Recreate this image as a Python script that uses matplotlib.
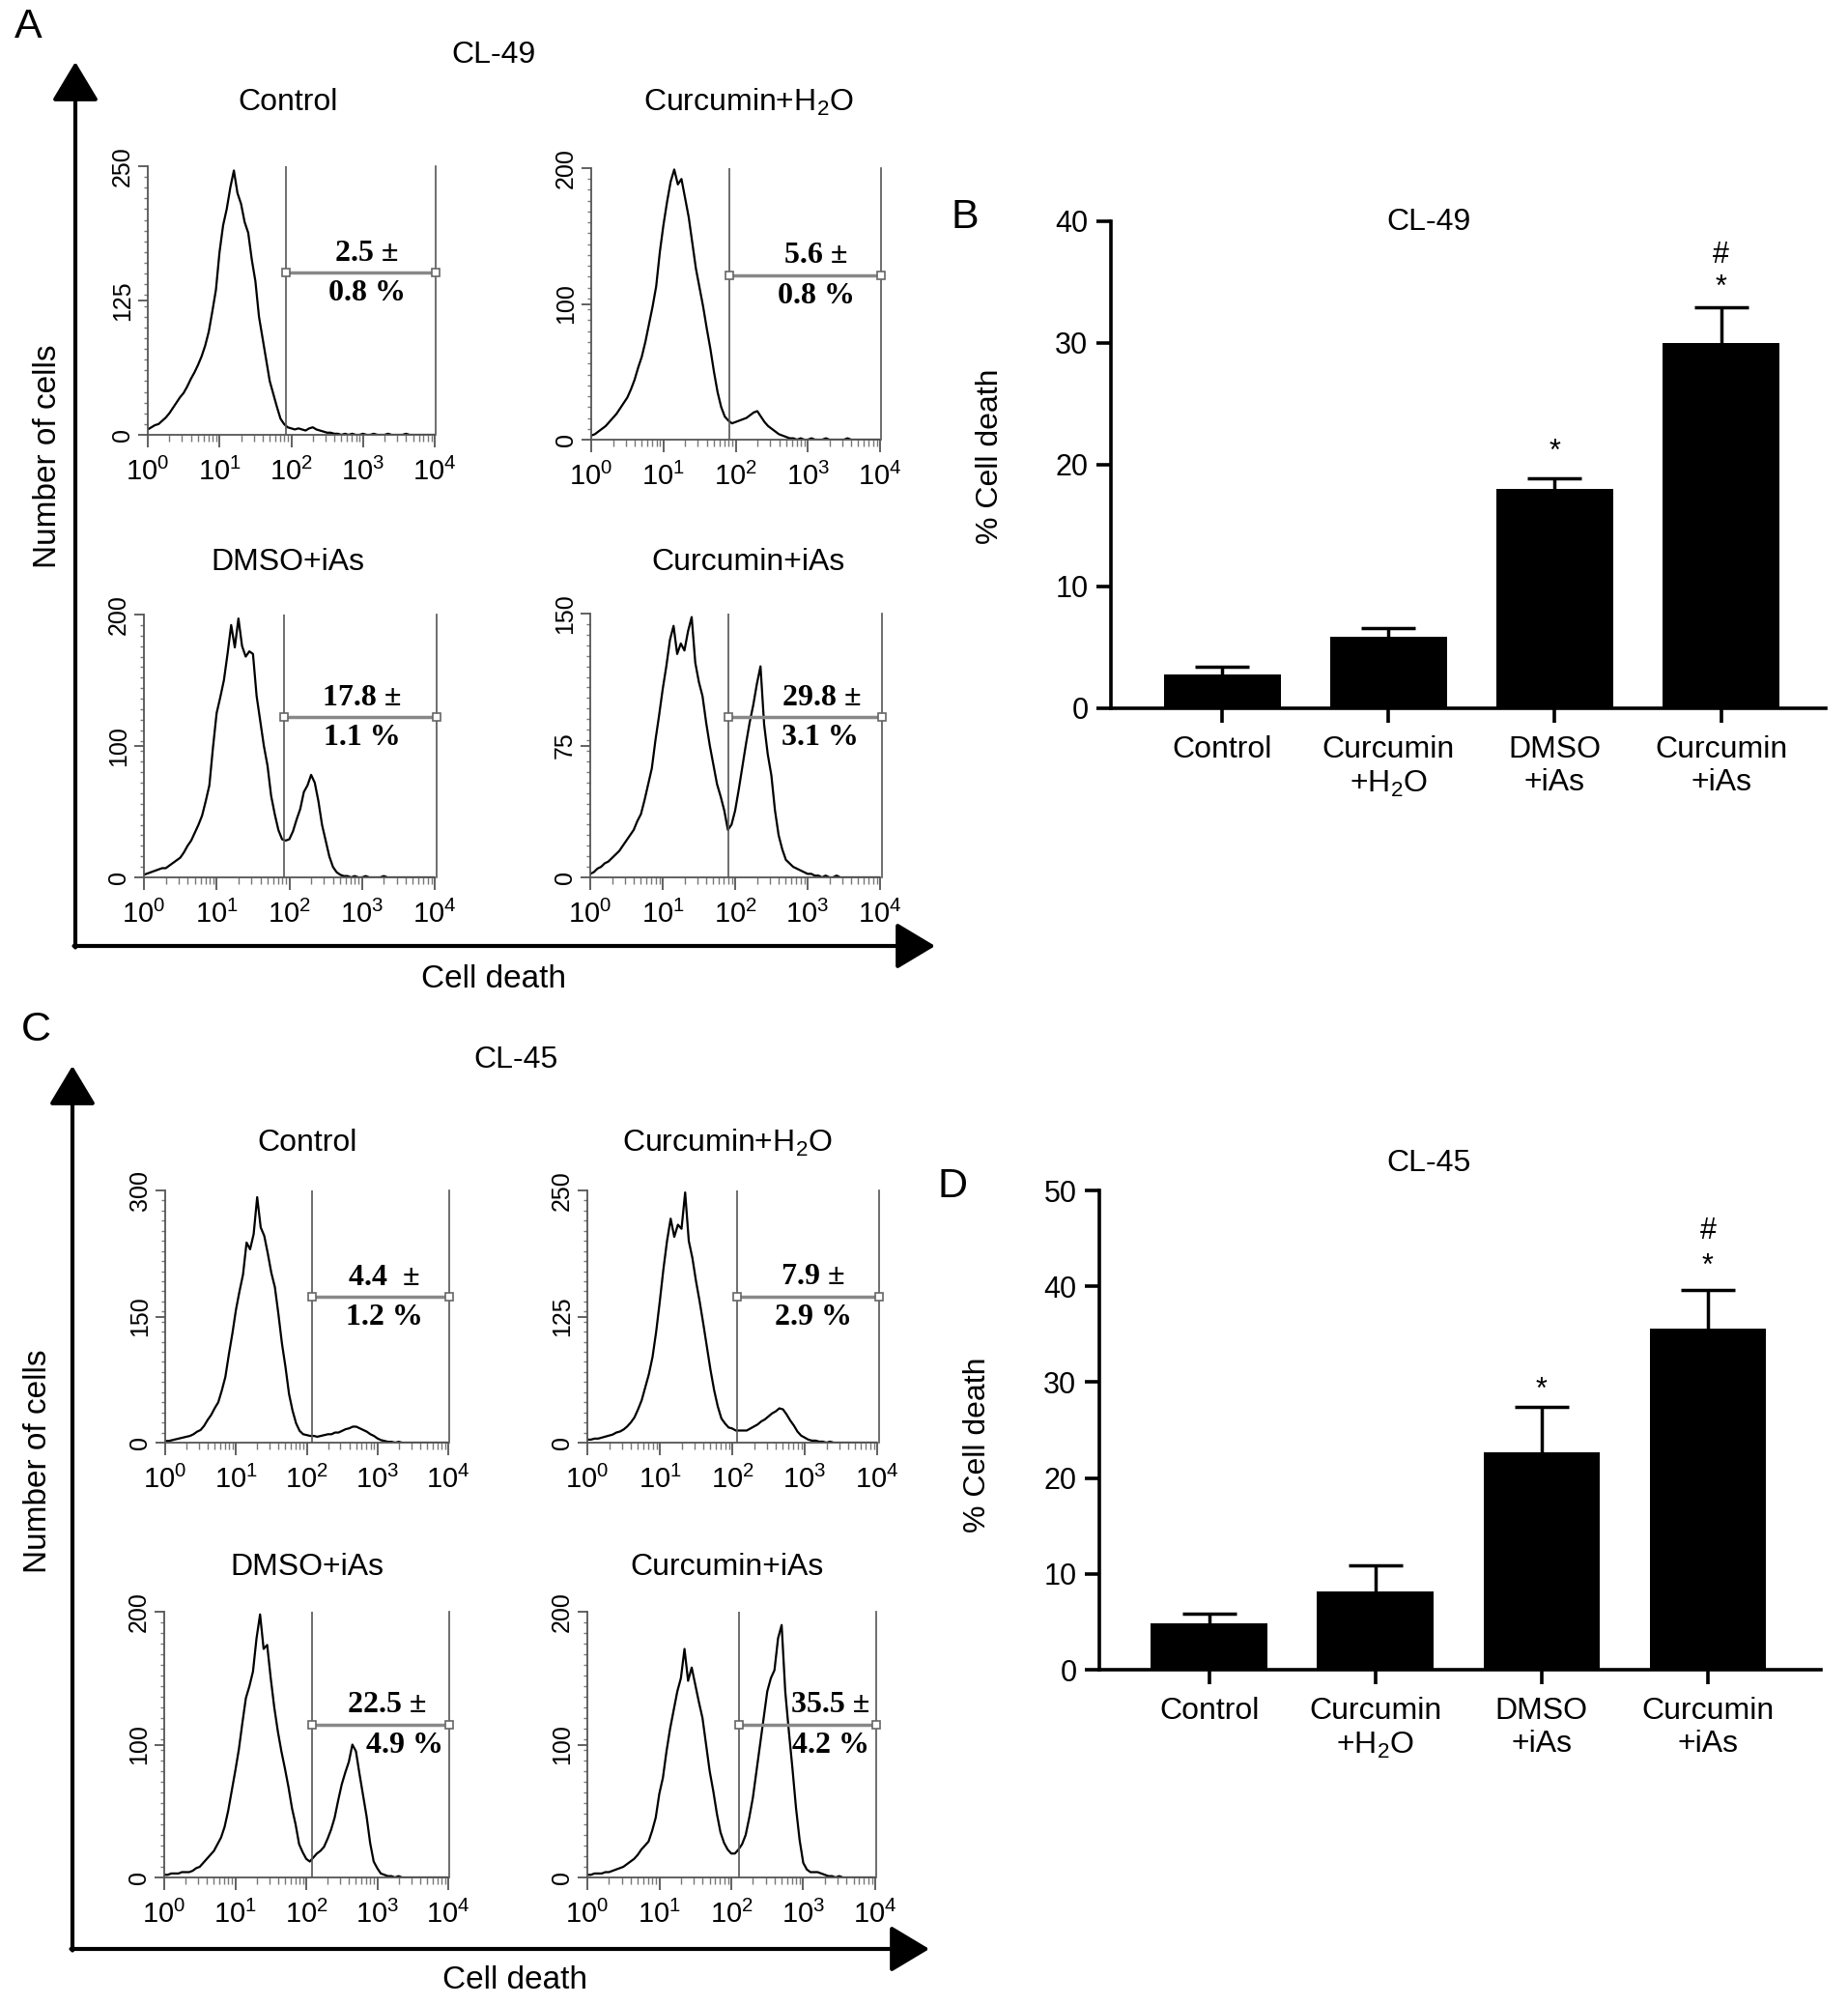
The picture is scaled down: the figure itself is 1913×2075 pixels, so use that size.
import numpy as np
import matplotlib
matplotlib.use('Agg')
import matplotlib.pyplot as plt
from matplotlib.ticker import MultipleLocator, LogLocator

plt.rcParams['font.family'] = ['Liberation Sans', 'DejaVu Sans']
plt.rcParams['mathtext.fontset'] = 'custom'
plt.rcParams['mathtext.rm'] = 'Liberation Sans'
plt.rcParams['mathtext.it'] = 'Liberation Sans:italic'
plt.rcParams['mathtext.bf'] = 'Liberation Sans:bold'

W, H = 1913, 2075

# ---- flow cytometry histograms (counts per channel, channels 0.05 decade apart, 10^0..10^4)
log_channel = np.linspace(0, 4, 81)

cl49_control = [5, 7, 9, 10, 13, 16, 20, 25, 30, 35, 39, 45, 52, 58, 65, 73, 83, 96, 115, 135,
                170, 195, 210, 230, 246, 225, 215, 198, 188, 163, 143, 110, 90, 70, 50, 38, 26, 15, 10, 7,
                6, 5, 6, 5, 4, 6, 7, 5, 4, 3, 2, 2, 1, 1, 0, 1, 0, 1, 0, 0,
                1, 0, 0, 1, 0, 0, 0, 1, 0, 0, 0, 0, 1, 0, 0, 0, 0, 0, 0, 0, 0]
cl49_cur_h2o = [3, 4, 6, 8, 10, 13, 16, 19, 23, 27, 31, 37, 44, 53, 61, 72, 85, 98, 113, 138,
                158, 175, 190, 199, 188, 192, 178, 164, 145, 126, 112, 98, 82, 67, 50, 35, 24, 17, 14, 12,
                13, 14, 15, 16, 18, 20, 21, 17, 13, 10, 8, 6, 4, 3, 2, 1, 1, 0, 1, 0,
                0, 1, 0, 0, 0, 1, 0, 0, 0, 0, 0, 1, 0, 0, 0, 0, 0, 0, 0, 0, 0]
cl49_dmso_ias = [2, 3, 4, 5, 6, 7, 7, 9, 11, 13, 15, 19, 24, 28, 34, 40, 47, 58, 70, 99,
                 125, 137, 150, 170, 192, 175, 197, 176, 168, 172, 170, 138, 119, 100, 85, 62, 48, 36, 29, 28,
                 29, 35, 44, 52, 65, 70, 78, 72, 58, 40, 28, 16, 8, 4, 2, 1, 1, 0, 1, 0,
                 0, 1, 0, 0, 0, 0, 1, 0, 0, 0, 0, 0, 0, 0, 0, 0, 0, 0, 0, 0, 0]
cl49_cur_ias = [2, 3, 5, 6, 8, 9, 11, 13, 15, 18, 21, 24, 27, 32, 36, 44, 53, 62, 78, 92,
                107, 120, 135, 143, 127, 133, 129, 140, 148, 122, 111, 103, 88, 75, 64, 53, 46, 38, 27, 30,
                38, 50, 63, 76, 88, 98, 110, 120, 87, 70, 58, 38, 24, 16, 10, 8, 6, 5, 4, 3,
                2, 2, 1, 1, 0, 1, 0, 0, 1, 0, 0, 0, 0, 0, 0, 0, 0, 0, 0, 0, 0]

cl45_control = [2, 2, 3, 4, 5, 6, 7, 8, 10, 13, 15, 20, 27, 33, 41, 48, 62, 78, 105, 130,
                158, 180, 200, 238, 230, 248, 292, 256, 246, 225, 202, 185, 153, 118, 90, 58, 38, 23, 14, 10,
                9, 8, 8, 7, 8, 9, 10, 10, 12, 12, 14, 16, 17, 19, 19, 17, 15, 13, 10, 8,
                5, 3, 2, 1, 1, 0, 1, 0, 0, 0, 0, 0, 0, 0, 0, 0, 0, 0, 0, 0, 0]
cl45_cur_h2o = [3, 3, 4, 4, 5, 6, 7, 8, 10, 11, 13, 16, 20, 25, 33, 42, 55, 68, 85, 110,
                140, 172, 200, 222, 204, 216, 212, 248, 200, 183, 160, 140, 118, 95, 72, 52, 36, 24, 19, 15,
                14, 12, 12, 12, 12, 14, 16, 18, 21, 23, 26, 29, 31, 34, 33, 28, 22, 17, 11, 7,
                5, 3, 2, 2, 1, 1, 0, 1, 0, 0, 0, 0, 0, 0, 0, 0, 0, 0, 0, 0, 0]
cl45_dmso_ias = [2, 2, 3, 3, 3, 4, 4, 4, 5, 7, 8, 11, 14, 17, 20, 25, 30, 38, 50, 65,
                 80, 96, 116, 135, 144, 155, 180, 198, 172, 175, 150, 128, 110, 95, 82, 68, 52, 40, 25, 19,
                 14, 12, 15, 18, 20, 23, 29, 36, 45, 58, 70, 79, 87, 100, 95, 78, 62, 46, 26, 12,
                 7, 3, 2, 1, 1, 0, 1, 0, 0, 0, 0, 0, 0, 0, 0, 0, 0, 0, 0, 0, 0]
cl45_cur_ias = [2, 2, 3, 3, 3, 4, 4, 5, 6, 7, 8, 10, 12, 14, 17, 21, 24, 27, 35, 45,
                63, 75, 95, 112, 126, 140, 150, 172, 148, 158, 145, 132, 120, 100, 80, 65, 48, 34, 26, 21,
                18, 18, 21, 25, 32, 45, 60, 80, 100, 120, 140, 150, 156, 180, 190, 140, 110, 82, 52, 28,
                11, 6, 4, 4, 4, 3, 2, 1, 1, 0, 1, 0, 0, 0, 0, 0, 0, 0, 0, 0, 0]

hist_titles = ['Control', 'Curcumin+H$_\\mathrm{2}$O', 'DMSO+iAs', 'Curcumin+iAs']

cl49_ymax = [250, 200, 200, 150]
cl49_gate_start = [1.93, 1.91, 1.93, 1.90]
cl49_gate_level = [151, 121, 122, 91]
cl49_mean = ['2.5 \u00b1', '5.6 \u00b1', '17.8 \u00b1', '29.8 \u00b1']
cl49_sd = ['0.8 %', '0.8 %', '1.1 %', '3.1 %']
cl49_mean_pos = [3.06, 3.12, 3.00, 3.20]
cl49_sd_pos = [3.06, 3.12, 3.00, 3.17]

cl45_ymax = [300, 250, 200, 200]
cl45_gate_start = [2.08, 2.07, 2.08, 2.11]
cl45_gate_level = [173, 145, 115, 115]
cl45_mean = ['4.4  \u00b1', '7.9 \u00b1', '22.5 \u00b1', '35.5 \u00b1']
cl45_sd = ['1.2 %', '2.9 %', '4.9 %', '4.2 %']
cl45_mean_pos = [3.10, 3.12, 3.14, 3.38]
cl45_sd_pos = [3.10, 3.12, 3.39, 3.38]

# ---- bar charts (% cell death, mean + SEM)
groups = ['Control', 'Curcumin\n+H$_\\mathrm{2}$O', 'DMSO\n+iAs', 'Curcumin\n+iAs']
cl49_death = [2.75, 5.85, 18.0, 30.0]
cl49_sem = [0.7, 0.75, 0.9, 2.9]
cl49_marks = [(2, 21.0, '*'), (3, 34.5, '*'), (3, 37.2, '#')]
cl45_death = [4.8, 8.2, 22.7, 35.6]
cl45_sem = [1.05, 2.7, 4.7, 4.0]
cl45_marks = [(2, 29.1, '*'), (3, 42.0, '*'), (3, 45.8, '#')]

fig = plt.figure(figsize=(W / 100, H / 100), dpi=100)

# overlay for arrows and free text, in pixel coords
ax0 = fig.add_axes([0, 0, 1, 1])
ax0.set_xlim(0, W)
ax0.set_ylim(H, 0)
ax0.axis('off')


def px_axes(l, t, r, b):
    return fig.add_axes([l / W, 1 - b / H, (r - l) / W, (b - t) / H])


def corner_arrows(x, top, bottom, right):
    style = dict(arrowstyle='-|>,head_length=1.25,head_width=0.75', lw=3, color='k',
                 mutation_scale=20, shrinkA=0, shrinkB=0)
    ax0.annotate('', xy=(x, top), xytext=(x, bottom + 1.5), arrowprops=style)
    ax0.annotate('', xy=(right, bottom), xytext=(x - 1.5, bottom), arrowprops=style)


def histogram(box, counts, ymax, gate, level, mean_txt, sd_txt, mean_pos, sd_pos):
    ax = px_axes(*box)
    ax.plot(10 ** log_channel, counts, color='k', lw=1.6)
    ax.set_xscale('log')
    ax.set_xlim(1, 1e4)
    ax.set_ylim(0, ymax)
    ax.patch.set_alpha(0)
    for s in ['top', 'right']:
        ax.spines[s].set_visible(False)
    for s in ['left', 'bottom']:
        ax.spines[s].set_color('#555555')
        ax.spines[s].set_linewidth(1.3)
    ax.set_yticks([0, ymax // 2, ymax])
    ax.yaxis.set_minor_locator(MultipleLocator(ymax / 25))
    ax.xaxis.set_major_locator(LogLocator(base=10, numticks=10))
    ax.xaxis.set_minor_locator(LogLocator(base=10, subs=np.arange(2, 10), numticks=20))
    ax.tick_params(axis='y', which='major', length=7, width=1.3, color='#555555',
                   labelsize=18, labelrotation=90, pad=3)
    ax.tick_params(axis='y', which='minor', length=3, width=1, color='#777777')
    ax.tick_params(axis='x', which='major', length=9, width=1.3, color='#555555',
                   labelsize=21, pad=8)
    ax.tick_params(axis='x', which='minor', length=5, width=1, color='#777777')
    for lab in ax.get_yticklabels():
        lab.set_verticalalignment('center')
    ax.plot([10 ** gate] * 2, [0, ymax], color='#555555', lw=1.2)
    ax.plot([10 ** 4.02] * 2, [0, ymax], color='#555555', lw=1.2, clip_on=False)
    ax.plot([10 ** gate, 10 ** 4.02], [level, level], color='#888888', lw=2.5, marker='s', ms=6,
            mfc='white', mec='#666666', mew=1.2, clip_on=False)
    serif = dict(family='Liberation Serif', weight='bold', size=23, ha='center')
    ax.annotate(mean_txt, (10 ** mean_pos, level), xytext=(0, 4), textcoords='offset points',
                va='bottom', **serif)
    ax.annotate(sd_txt, (10 ** sd_pos, level), xytext=(0, -5), textcoords='offset points',
                va='top', **serif)
    return ax


def bar_panel(box, death, sem, xlim, ymax, marks):
    ax = px_axes(*box)
    x = np.arange(len(groups))
    ax.bar(x, death, width=0.70, color='k', edgecolor='k', linewidth=0, zorder=2)
    _, caps, _ = ax.errorbar(x, death, yerr=[np.zeros(len(sem)), sem], fmt='none', ecolor='k',
                             elinewidth=2.5, capsize=20, capthick=2.5, zorder=3)
    caps[0].set_visible(False)  # no cap at the bar top
    for i, y, m in marks:
        ax.text(i, y, m, ha='center', va='center', fontsize=22)
    ax.set_xlim(*xlim)
    ax.set_ylim(0, ymax)
    ax.set_yticks(np.arange(0, ymax + 1, 10))
    ax.set_xticks(x, groups)
    ax.patch.set_alpha(0)
    for s in ['top', 'right']:
        ax.spines[s].set_visible(False)
    for s in ['left', 'bottom']:
        ax.spines[s].set_linewidth(2.6)
    ax.tick_params(axis='both', length=11, width=2.6, labelsize=22, pad=6)
    ax.tick_params(axis='x', labelsize=23, pad=9)
    return ax


# ---- panel A (CL-49 histograms)
corner_arrows(78, 64, 979, 968)
cl49_boxes = [(153, 172, 450, 450), (612, 174, 911, 455),
              (149, 636, 450, 908), (611, 635, 911, 908)]
cl49_hists = [cl49_control, cl49_cur_h2o, cl49_dmso_ias, cl49_cur_ias]
for k in range(4):
    histogram(cl49_boxes[k], cl49_hists[k], cl49_ymax[k], cl49_gate_start[k], cl49_gate_level[k],
              cl49_mean[k], cl49_sd[k], cl49_mean_pos[k], cl49_sd_pos[k])
for (cx, cy), t in zip([(298, 106), (775, 106), (298, 582), (775, 582)], hist_titles):
    ax0.text(cx, cy, t, ha='center', va='center', fontsize=23)
ax0.text(29, 28, 'A', ha='center', va='center', fontsize=31)
ax0.text(511, 57, 'CL-49', ha='center', va='center', fontsize=23)
ax0.text(50, 472, 'Number of cells', ha='center', va='center', rotation=90, fontsize=24)
ax0.text(511, 1013, 'Cell death', ha='center', va='center', fontsize=24)

# ---- panel C (CL-45 histograms)
corner_arrows(75, 1103, 2017, 962)
cl45_boxes = [(171, 1232, 464, 1493), (608, 1232, 908, 1493),
              (170, 1668, 464, 1943), (608, 1668, 906, 1943)]
cl45_hists = [cl45_control, cl45_cur_h2o, cl45_dmso_ias, cl45_cur_ias]
for k in range(4):
    histogram(cl45_boxes[k], cl45_hists[k], cl45_ymax[k], cl45_gate_start[k], cl45_gate_level[k],
              cl45_mean[k], cl45_sd[k], cl45_mean_pos[k], cl45_sd_pos[k])
for (cx, cy), t in zip([(318, 1183), (753, 1183), (318, 1622), (753, 1622)], hist_titles):
    ax0.text(cx, cy, t, ha='center', va='center', fontsize=23)
ax0.text(37, 1066, 'C', ha='center', va='center', fontsize=31)
ax0.text(534, 1097, 'CL-45', ha='center', va='center', fontsize=23)
ax0.text(40, 1512, 'Number of cells', ha='center', va='center', rotation=90, fontsize=24)
ax0.text(533, 2050, 'Cell death', ha='center', va='center', fontsize=24)

# ---- panels B and D (bar charts)
bar_panel((1150, 229, 1890, 733), cl49_death, cl49_sem, (-0.67, 3.63), 40, cl49_marks)
ax0.text(999, 225, 'B', ha='center', va='center', fontsize=31)
ax0.text(1479, 230, 'CL-49', ha='center', va='center', fontsize=23)
ax0.text(1025, 472, '% Cell death', ha='center', va='center', rotation=90, fontsize=23)

bar_panel((1138, 1232, 1885, 1728), cl45_death, cl45_sem, (-0.66, 3.68), 50, cl45_marks)
ax0.text(986, 1228, 'D', ha='center', va='center', fontsize=31)
ax0.text(1479, 1204, 'CL-45', ha='center', va='center', fontsize=23)
ax0.text(1012, 1495, '% Cell death', ha='center', va='center', rotation=90, fontsize=23)

fig.savefig('out.png', dpi=100)
